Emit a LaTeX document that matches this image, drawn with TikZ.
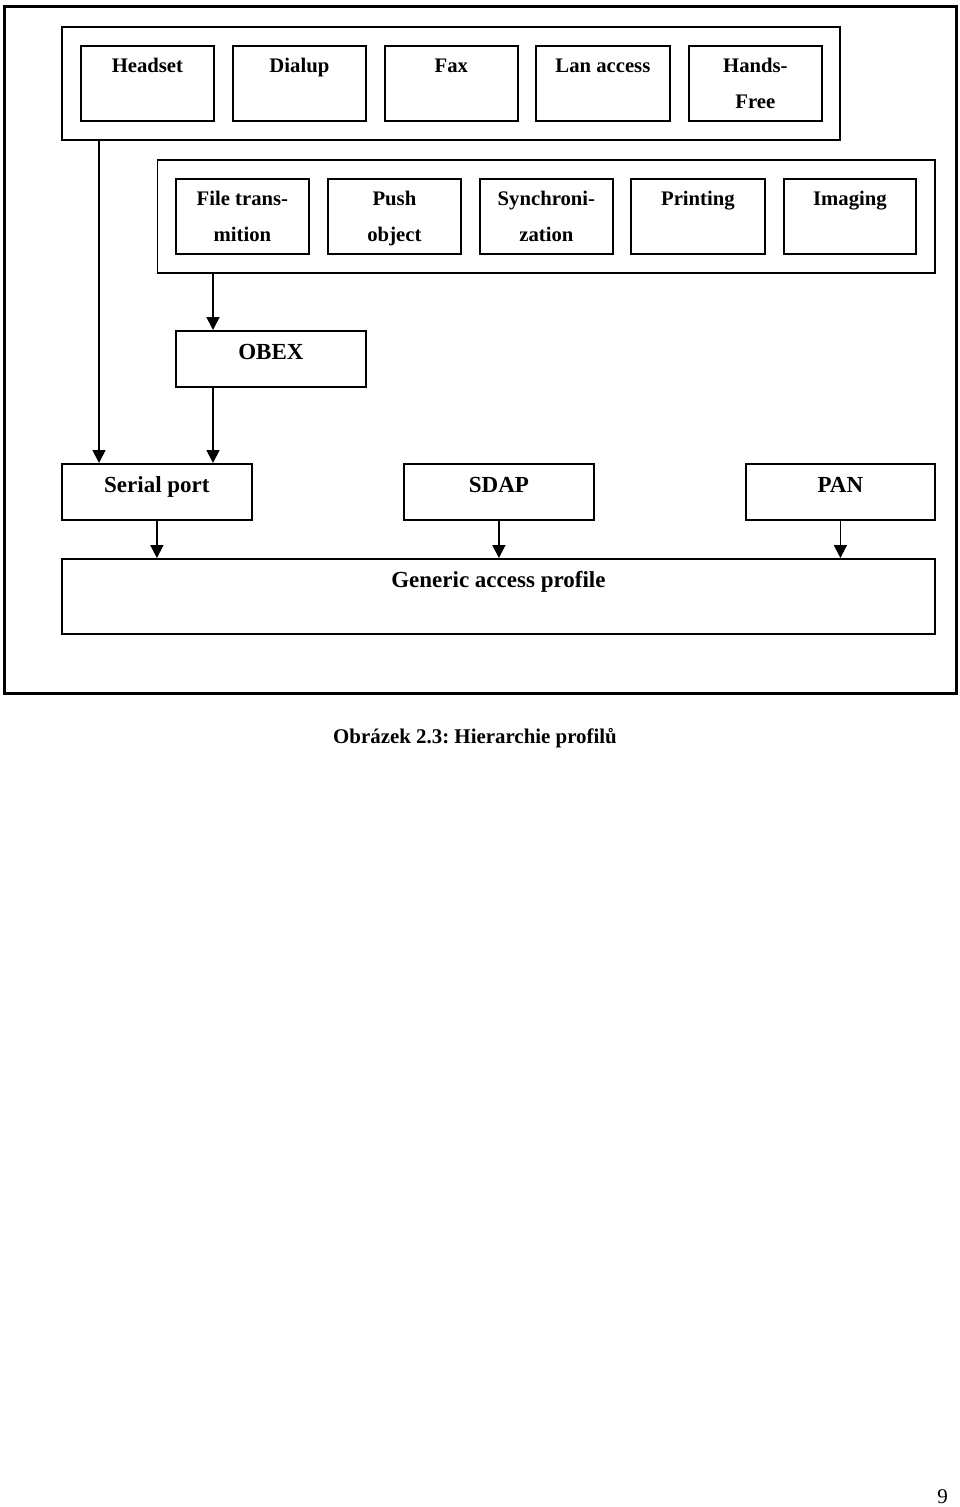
\documentclass[tikz,border=0pt]{standalone}
\usepackage{fontspec}
\setmainfont{Liberation Serif}
\usetikzlibrary{arrows.meta}
\frenchspacing
\begin{document}
\begin{tikzpicture}[x=1pt,y=-1pt,
  box/.style={draw,line width=1.8pt,inner sep=0pt,anchor=north west},
  frame/.style={draw,line width=3.3pt,inner sep=0pt,anchor=north west},
  lbl/.style={anchor=base,inner sep=0pt,font=\fontsize{20.7}{24}\selectfont\bfseries},
  big/.style={anchor=base,inner sep=0pt,font=\fontsize{23}{27}\selectfont\bfseries},
  arr/.style={line width=1.8pt,-{Triangle[length=13pt,width=13pt]}}]
\useasboundingbox (0,0) rectangle (960,1507);
% outer frame
\node[frame,minimum width=952pt,minimum height=686.7pt] (outer) at (2.5,5) {};
% top group
\node[box,minimum width=778pt,minimum height=113pt] (tg) at (61,26) {};
\node[box,minimum width=133pt,minimum height=75pt] (hs) at (80,45) {};
\node[box,minimum width=133pt,minimum height=75pt] (du) at (232,45) {};
\node[box,minimum width=133pt,minimum height=75pt] (fx) at (384,45) {};
\node[box,minimum width=134pt,minimum height=75pt] (la) at (535,45) {};
\node[box,minimum width=133pt,minimum height=75pt] (hf) at (688,45) {};
\node[lbl] (hst) at ([yshift=-27pt]hs.north) {Headset};
\node[lbl] (dut) at ([yshift=-27pt]du.north) {Dialup};
\node[lbl] (fxt) at ([yshift=-27pt]fx.north) {Fax};
\node[lbl] (lat) at ([yshift=-27pt]la.north) {Lan access};
\node[lbl] (hft1) at ([yshift=-27pt]hf.north) {Hands-};
\node[lbl] (hft2) at ([yshift=-63pt]hf.north) {Free};
% second group
\node[box,minimum width=777.5pt,minimum height=113pt] (sg) at (156.5,159) {};
\node[box,minimum width=133pt,minimum height=75pt] (ft) at (175,178) {};
\node[box,minimum width=133pt,minimum height=75pt] (po) at (327,178) {};
\node[box,minimum width=133pt,minimum height=75pt] (sy) at (479,178) {};
\node[box,minimum width=134pt,minimum height=75pt] (pr) at (630,178) {};
\node[box,minimum width=132pt,minimum height=75pt] (im) at (783,178) {};
\node[lbl] (ft1) at ([yshift=-27pt]ft.north) {File trans-};
\node[lbl] (ft2) at ([yshift=-63pt]ft.north) {mition};
\node[lbl] (po1) at ([yshift=-27pt]po.north) {Push};
\node[lbl] (po2) at ([yshift=-63pt]po.north) {object};
\node[lbl] (sy1) at ([yshift=-27pt]sy.north) {Synchroni-};
\node[lbl] (sy2) at ([yshift=-63pt]sy.north) {zation};
\node[lbl] (prt) at ([yshift=-27pt]pr.north) {Printing};
\node[lbl] (imt) at ([yshift=-27pt]im.north) {Imaging};
% OBEX
\node[box,minimum width=190pt,minimum height=56pt] (ob) at (175,330) {};
\node[big] (obt) at ([yshift=-29pt]ob.north) {OBEX};
% middle row
\node[box,minimum width=190pt,minimum height=56pt] (sp) at (61,463) {};
\node[box,minimum width=190pt,minimum height=56pt] (sd) at (403,463) {};
\node[box,minimum width=189pt,minimum height=56pt] (pa) at (745,463) {};
\node[big] (spt) at ([yshift=-29pt]sp.north) {Serial port};
\node[big] (sdt) at ([yshift=-29pt]sd.north) {SDAP};
\node[big] (pat) at ([yshift=-29pt]pa.north) {PAN};
% generic
\node[box,minimum width=873pt,minimum height=75pt] (ga) at (61,558) {};
\node[big] (gat) at ([yshift=-29pt]ga.north) {Generic access profile};
% connectors
\draw[arr] ([xshift=38pt]tg.south west) -- ([xshift=38pt]tg.south west |- sp.north);
\draw[arr] ([xshift=56.5pt]sg.south west) -- ([xshift=56.5pt]sg.south west |- ob.north);
\draw[arr] ([xshift=38pt]ob.south west) -- ([xshift=38pt]ob.south west |- sp.north);
\draw[arr] (sp.south) -- (sp.south |- ga.north);
\draw[arr] (sd.south) -- (sd.south |- ga.north);
\draw[arr] (pa.south) -- (pa.south |- ga.north);
% caption and page number
\node[anchor=base,inner sep=0pt,font=\fontsize{20.9}{25}\selectfont\bfseries] (cap) at (475,743) {Obrázek 2.3: Hierarchie profilů};
\node[anchor=base,inner sep=0pt,font=\fontsize{21}{25}\selectfont] (pg) at (942.5,1503) {9};
\end{tikzpicture}
\end{document}
